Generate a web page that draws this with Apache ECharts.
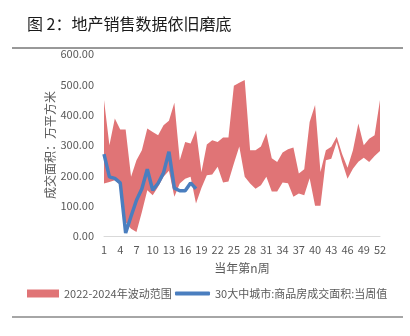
<!DOCTYPE html>
<html>
<head>
<meta charset="utf-8">
<script src="https://cdn.jsdelivr.net/npm/echarts@6/dist/echarts.min.js"></script>
<style>
html,body{margin:0;padding:0;background:#fff;}
#chart{width:410px;height:336px;}
</style>
</head>
<body>
<div id="chart"></div>
<script>
const weeks = ['1','2','3','4','5','6','7','8','9','10','11','12','13','14','15','16','17','18','19','20','21','22','23','24','25','26','27','28','29','30','31','32','33','34','35','36','37','38','39','40','41','42','43','44','45','46','47','48','49','50','51','52'];
const rangeMax = [448,299,387,351,351,195,250,283,354,343,332,365,380,439,250,310,305,349,210,302,316,310,325,325,495,505,514,283,283,295,339,256,244,275,286,292,206,220,376,432,211,283,294,327,270,225,283,371,299,321,332,448];
const rangeMin = [173,178,184,168,45,24,13,79,151,134,162,195,215,129,173,189,195,107,158,200,203,228,176,180,239,295,195,173,156,167,195,147,147,176,174,129,140,134,190,100,100,250,255,310,244,189,222,245,258,244,264,280];
const weekly2025 = [270,195,190,175,10,65,118,156,220,151,174,208,278,158,149,149,175,156];
const yTicks = [0,100,200,300,400,500,600];

const bandName = '2022-2024年波动范围';
const lineName = '30大中城市:商品房成交面积:当周值';
const red = '#E07476';
const blue = '#4A7EBF';
const font = '"Noto Sans CJK SC", "Noto Sans", sans-serif';

const bandDiff = rangeMax.map((v, i) => v - rangeMin[i]);

const chart = echarts.init(document.getElementById('chart'), null, {renderer: 'canvas'});
chart.setOption({
  animation: false,
  backgroundColor: '#fff',
  textStyle: {fontFamily: font},
  title: {
    text: '图 2：地产销售数据依旧磨底',
    left: 22, top: 11,
    textStyle: {fontSize: 16, fontWeight: 'normal', color: '#1a1a1a', fontFamily: font}
  },
  graphic: [
    {type: 'line', shape: {x1: 12, y1: 48, x2: 403, y2: 48}, style: {stroke: '#333', lineWidth: 1}},
    {type: 'line', shape: {x1: 12, y1: 317, x2: 403, y2: 317}, style: {stroke: '#888', lineWidth: 1.5}}
  ],
  legend: [
    {
      data: [bandName], left: 27, top: 288, padding: 0, icon: 'rect', itemWidth: 32, itemHeight: 8, itemGap: 5,
      textStyle: {fontSize: 11, color: '#595959', fontFamily: font}
    },
    {
      data: [lineName], left: 175, top: 288, padding: 0, icon: 'roundRect', itemWidth: 35, itemHeight: 4,
      textStyle: {fontSize: 11, color: '#595959', fontFamily: font}
    }
  ],
  grid: {left: 104, right: 30, top: 54, bottom: 100},
  xAxis: {
    type: 'category',
    data: weeks,
    boundaryGap: false,
    name: '当年第n周',
    nameLocation: 'middle',
    nameGap: 26,
    nameTextStyle: {fontSize: 12, color: '#595959'},
    axisLine: {lineStyle: {color: '#d9d9d9', width: 1}},
    axisTick: {show: false},
    axisLabel: {interval: 2, fontSize: 11, color: '#595959', margin: 8}
  },
  yAxis: {
    type: 'value',
    min: yTicks[0], max: yTicks[yTicks.length - 1], interval: 100,
    name: '成交面积：万平方米',
    nameLocation: 'middle',
    nameGap: 48,
    nameMoveOverlap: false,
    nameRotate: 90,
    nameTextStyle: {fontSize: 12, color: '#595959'},
    axisLine: {show: false},
    axisTick: {show: false},
    splitLine: {show: false},
    axisLabel: {fontSize: 11, color: '#595959', margin: 10, formatter: v => v.toFixed(2)}
  },
  series: [
    {
      name: 'lower', type: 'line', stack: 'band', data: rangeMin, symbol: 'none',
      lineStyle: {opacity: 0}, silent: true, z: 1
    },
    {
      name: bandName, type: 'line', stack: 'band', data: bandDiff, symbol: 'none',
      itemStyle: {color: red}, lineStyle: {width: 0, opacity: 0},
      areaStyle: {color: red, opacity: 1}, z: 2
    },
    {
      name: lineName, type: 'line', data: weekly2025, symbol: 'none',
      itemStyle: {color: blue}, lineStyle: {color: blue, width: 3.5}, z: 3
    }
  ]
});
</script>
</body>
</html>
